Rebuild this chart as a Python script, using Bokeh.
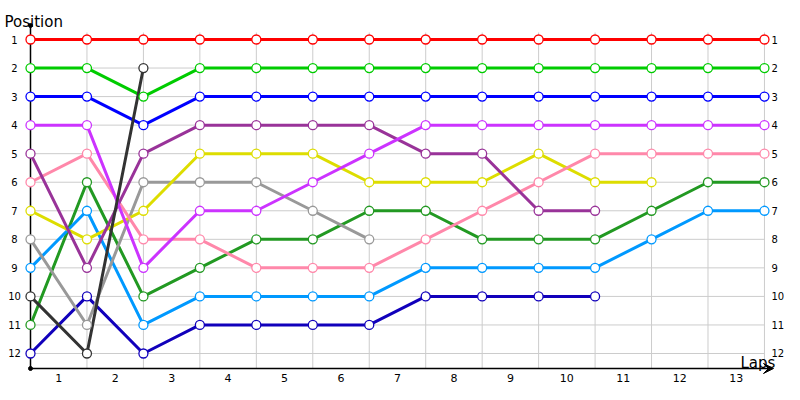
from bokeh.plotting import figure
from bokeh.models import Range1d, Arrow, VeeHead
from bokeh.core.properties import value
from bokeh.embed import file_html
from bokeh.resources import INLINE

# ---- data ----
laps = list(range(14))                 # lap boundaries 0..13
lap_labels = [str(i) for i in range(1, 14)]
positions = list(range(1, 13))
pos_labels = [str(i) for i in positions]

red = [1, 1, 1, 1, 1, 1, 1, 1, 1, 1, 1, 1, 1, 1]
green = [2, 2, 3, 2, 2, 2, 2, 2, 2, 2, 2, 2, 2, 2]
blue = [3, 3, 4, 3, 3, 3, 3, 3, 3, 3, 3, 3, 3, 3]
magenta = [4, 4, 9, 7, 7, 6, 5, 4, 4, 4, 4, 4, 4, 4]
purple = [5, 9, 5, 4, 4, 4, 4, 5, 5, 7, 7]
pink = [6, 5, 8, 8, 9, 9, 9, 8, 7, 6, 5, 5, 5, 5]
yellow = [7, 8, 7, 5, 5, 5, 6, 6, 6, 5, 6, 6]
gray = [8, 11, 6, 6, 6, 7, 8]
lightblue = [9, 7, 11, 10, 10, 10, 10, 9, 9, 9, 9, 8, 7, 7]
darkgray = [10, 12, 2]
darkgreen = [11, 6, 10, 9, 8, 8, 7, 7, 8, 8, 8, 7, 6, 6]
navy = [12, 10, 12, 11, 11, 11, 11, 10, 10, 10, 10]

series = [
    (navy, "#1100bb"),
    (darkgreen, "#229922"),
    (lightblue, "#0099ff"),
    (gray, "#999999"),
    (yellow, "#dddd00"),
    (pink, "#ff88aa"),
    (purple, "#993399"),
    (magenta, "#cc33ff"),
    (blue, "#0000ff"),
    (green, "#00cc00"),
    (red, "#ff0000"),
    (darkgray, "#333333"),
]

# ---- figure ----
p = figure(width=784, height=384,
           x_range=Range1d(-0.5313, 13.355), y_range=Range1d(13.086, -0.3663),
           output_backend="svg", toolbar_location=None, min_border=0,
           x_axis_type=None, y_axis_type=None)
p.outline_line_color = None
p.grid.visible = False
p.background_fill_color = "white"
p.border_fill_color = "white"

y_top_axis = 0.5095
y_axis = 12.526
y_grid_top = 0.755

# grid
p.segment(x0=laps[1:], y0=[y_grid_top] * 13, x1=laps[1:], y1=[y_axis] * 13,
          line_color="#cccccc", line_width=1)
p.segment(x0=[laps[0]] * len(positions), y0=positions,
          x1=[laps[-1]] * len(positions), y1=positions,
          line_color="#cccccc", line_width=1)

# axes
p.segment(x0=[0], y0=[y_top_axis], x1=[0], y1=[y_axis], line_color="black", line_width=1.5)
p.add_layout(Arrow(end=VeeHead(size=10, fill_color="black", line_color="black", line_width=1),
                   x_start=0, y_start=y_axis, x_end=13.16, y_end=y_axis,
                   line_color="black", line_width=1.5))
p.scatter(x=[0, 0], y=[y_top_axis, y_axis], size=4, color="black")

# series lines
for vals, col in series:
    p.line(laps[:len(vals)], vals, line_color=col, line_width=3)
for vals, col in series:
    p.scatter(laps[:len(vals)], vals, size=9, fill_color="white",
              line_color=col, line_width=1.3)

# tick labels
font = value("DejaVu Sans")
p.text(x=[-0.2834] * len(positions), y=positions, text=pos_labels,
       text_font=font, text_font_size="10px", text_align="center",
       text_baseline="middle", text_color="black")
p.text(x=[13.124] * len(positions), y=positions, text=pos_labels,
       text_font=font, text_font_size="10px", text_align="left",
       text_baseline="middle", text_color="black")
p.text(x=[l + 0.5 for l in laps[:-1]], y=[12.841] * 13, text=lap_labels,
       text_font=font, text_font_size="11px", text_align="center",
       text_baseline="middle", text_color="black")

# axis titles
p.text(x=[-0.4605], y=[0.394], text=["Position"], text_font=font,
       text_font_size="15px", text_align="left", text_baseline="alphabetic",
       text_color="black")
p.text(x=[12.575], y=[12.333], text=["Laps"], text_font=font,
       text_font_size="15px", text_align="left", text_baseline="alphabetic",
       text_color="black")

open("out.html", "w").write(file_html(p, INLINE))
